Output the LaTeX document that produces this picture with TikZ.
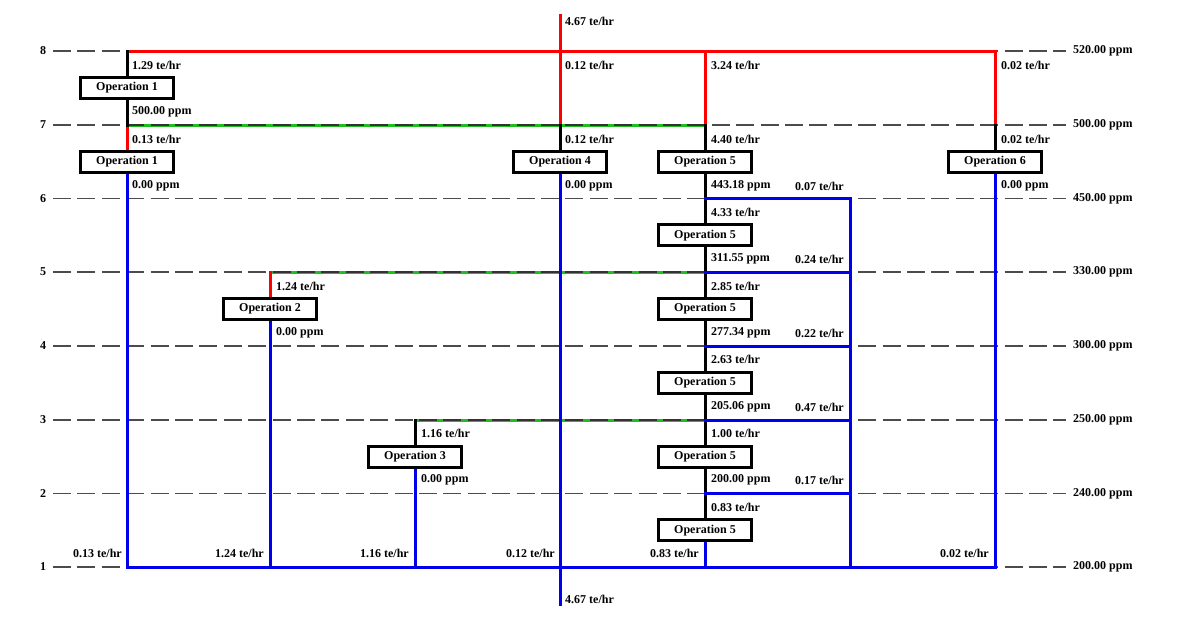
\documentclass[tikz,border=0pt]{standalone}
\usepackage{fontspec}
\setmainfont{Liberation Serif}
\usetikzlibrary{backgrounds}
\definecolor{cred}{RGB}{255,0,0}
\definecolor{cblue}{RGB}{0,0,235}
\definecolor{cgreen}{RGB}{30,190,30}
\definecolor{cdash}{RGB}{75,75,75}
\begin{document}
\begin{tikzpicture}[x=1pt,y=-1pt,
  every node/.style={font=\fontsize{12}{14}\selectfont\bfseries, inner sep=0pt},
  lvl/.style={draw=cdash, line width=1.4pt, dash pattern=on 18pt off 6.4pt},
  red/.style={draw=cred, line width=3pt, line cap=rect},
  blue/.style={draw=cblue, line width=3pt, line cap=rect},
  green/.style={draw=cgreen, line width=3pt},
  blk/.style={draw=black, line width=3pt, line cap=rect},
  op/.style={draw=black, line width=2.8pt, fill=white, minimum width=93pt, minimum height=21pt},
  lbl/.style={anchor=west},
  rlbl/.style={anchor=east}]
\useasboundingbox (0,0) rectangle (1189,632);
% coordinates
\coordinate (a8) at (127,51);  \coordinate (b8) at (560,51);
\coordinate (c8) at (705,51);  \coordinate (d8) at (995,51);
\coordinate (a7) at (127,125); \coordinate (b7) at (560,125);
\coordinate (c7) at (705,125); \coordinate (d7) at (995,125);
\coordinate (t4) at (560,15);  \coordinate (s4) at (560,604);
\coordinate (e5) at (270,272); \coordinate (c5) at (705,272);
\coordinate (f3) at (415,420); \coordinate (c3) at (705,420);
\coordinate (c6) at (705,198.5); \coordinate (r6) at (850,198.5);
\coordinate (c4) at (705,346); \coordinate (r4) at (850,346);
\coordinate (c2) at (705,493.5); \coordinate (r2) at (850,493.5);
\coordinate (r5) at (850,272); \coordinate (r3) at (850,420);
\coordinate (a1) at (127,567); \coordinate (e1) at (270,567);
\coordinate (f1) at (415,567); \coordinate (b1) at (560,567);
\coordinate (c1) at (705,567); \coordinate (r1) at (850,567);
\coordinate (d1) at (995,567);
% operation boxes
\node[op] (o1a) at (127,88) {Operation 1};
\node[op] (o1b) at (127,161.75) {Operation 1};
\node[op] (o4) at (560,161.75) {Operation 4};
\node[op] (o5a) at (705,161.75) {Operation 5};
\node[op] (o5b) at (705,235.25) {Operation 5};
\node[op] (o5c) at (705,309) {Operation 5};
\node[op] (o5d) at (705,383) {Operation 5};
\node[op] (o5e) at (705,456.75) {Operation 5};
\node[op] (o5f) at (705,530.25) {Operation 5};
\node[op] (o6) at (995,161.75) {Operation 6};
\node[op] (o2) at (270,309) {Operation 2};
\node[op] (o3) at (415,456.75) {Operation 3};
\begin{scope}[on background layer]
% dashed level lines
\foreach \y/\n/\p in {51/8/520.00, 125/7/500.00, 198.5/6/450.00, 272/5/330.00, 346/4/300.00, 420/3/250.00, 493.5/2/240.00, 567/1/200.00}{
  \draw[lvl] (53,\y) -- (1066,\y);
  \node at (43,\y) {\n};
  \node[lbl] at (1073,\y) {\p\ ppm};
}
% green lines with dashed overlay
\draw[green] (a7) -- (c7);
\draw[green] (e5) -- (c5);
\draw[green] (f3) -- (c3);
\begin{scope}
  \clip (127,120) rectangle (705,130);
  \draw[lvl, draw=black!80] (53,125) -- (1066,125);
\end{scope}
\begin{scope}
  \clip (270,267) rectangle (705,277);
  \draw[lvl, draw=black!80] (53,272) -- (1066,272);
\end{scope}
\begin{scope}
  \clip (415,415) rectangle (705,425);
  \draw[lvl, draw=black!80] (53,420) -- (1066,420);
\end{scope}
% red lines
\draw[red, line join=miter] (d7) -- (d8) -- (a8);
\draw[red] (t4) -- (b7);
\draw[red] (c8) -- (c7);
\draw[red] (a7) -- (o1b.north);
\draw[red] (e5) -- (o2.north);
% black lines
\draw[blk] (a8) -- (o1a.north);
\draw[blk] (o1a.south) -- (a7);
\draw[blk] (b7) -- (o4.north);
\draw[blk] (c7) -- (o5a.north);
\draw[blk] (d7) -- (o6.north);
\draw[blk] (o5a.south) -- (o5b.north);
\draw[blk] (o5b.south) -- (o5c.north);
\draw[blk] (o5c.south) -- (o5d.north);
\draw[blk] (o5d.south) -- (o5e.north);
\draw[blk] (o5e.south) -- (o5f.north);
\draw[blk] (f3) -- (o3.north);
% blue lines
\draw[blue, line join=miter] (o1b.south) -- (a1) -- (d1) -- (o6.south);
\draw[blue] (o4.south) -- (s4);
\draw[blue] (o2.south) -- (e1);
\draw[blue] (o3.south) -- (f1);
\draw[blue] (o5f.south) -- (c1);
\draw[blue, line join=miter] (c6) -- (r6) -- (r1);
\draw[blue] (c5) -- (r5);
\draw[blue] (c4) -- (r4);
\draw[blue] (c3) -- (r3);
\draw[blue] (c2) -- (r2);
\end{scope}
% labels column 1
\node[lbl] at (132,65) {1.29 te/hr};
\node[lbl] at (132,112) {500.00 ppm};
\node[lbl] at (132,139) {0.13 te/hr};
\node[lbl] at (132,186) {0.00 ppm};
\node[rlbl] at (122,553) {0.13 te/hr};
% column 4
\node[lbl] at (565,21) {4.67 te/hr};
\node[lbl] at (565,65) {0.12 te/hr};
\node[lbl] at (565,139) {0.12 te/hr};
\node[lbl] at (565,186) {0.00 ppm};
\node[rlbl] at (555,553) {0.12 te/hr};
\node[lbl] at (565,599) {4.67 te/hr};
% column 5
\node[lbl] at (711,65) {3.24 te/hr};
\node[lbl] at (711,139) {4.40 te/hr};
\node[lbl] at (711,186) {443.18 ppm};
\node[rlbl] at (844,186) {0.07 te/hr};
\node[lbl] at (711,212) {4.33 te/hr};
\node[lbl] at (711,259) {311.55 ppm};
\node[rlbl] at (844,259) {0.24 te/hr};
\node[lbl] at (711,286) {2.85 te/hr};
\node[lbl] at (711,333) {277.34 ppm};
\node[rlbl] at (844,333) {0.22 te/hr};
\node[lbl] at (711,359) {2.63 te/hr};
\node[lbl] at (711,407) {205.06 ppm};
\node[rlbl] at (844,407) {0.47 te/hr};
\node[lbl] at (711,433) {1.00 te/hr};
\node[lbl] at (711,480) {200.00 ppm};
\node[rlbl] at (844,480) {0.17 te/hr};
\node[lbl] at (711,507) {0.83 te/hr};
\node[rlbl] at (699,553) {0.83 te/hr};
% column 6
\node[lbl] at (1001,65) {0.02 te/hr};
\node[lbl] at (1001,139) {0.02 te/hr};
\node[lbl] at (1001,186) {0.00 ppm};
\node[rlbl] at (989,553) {0.02 te/hr};
% column 2
\node[lbl] at (276,286) {1.24 te/hr};
\node[lbl] at (276,333) {0.00 ppm};
\node[rlbl] at (264,553) {1.24 te/hr};
% column 3
\node[lbl] at (421,433) {1.16 te/hr};
\node[lbl] at (421,480) {0.00 ppm};
\node[rlbl] at (409,553) {1.16 te/hr};
\end{tikzpicture}
\end{document}
